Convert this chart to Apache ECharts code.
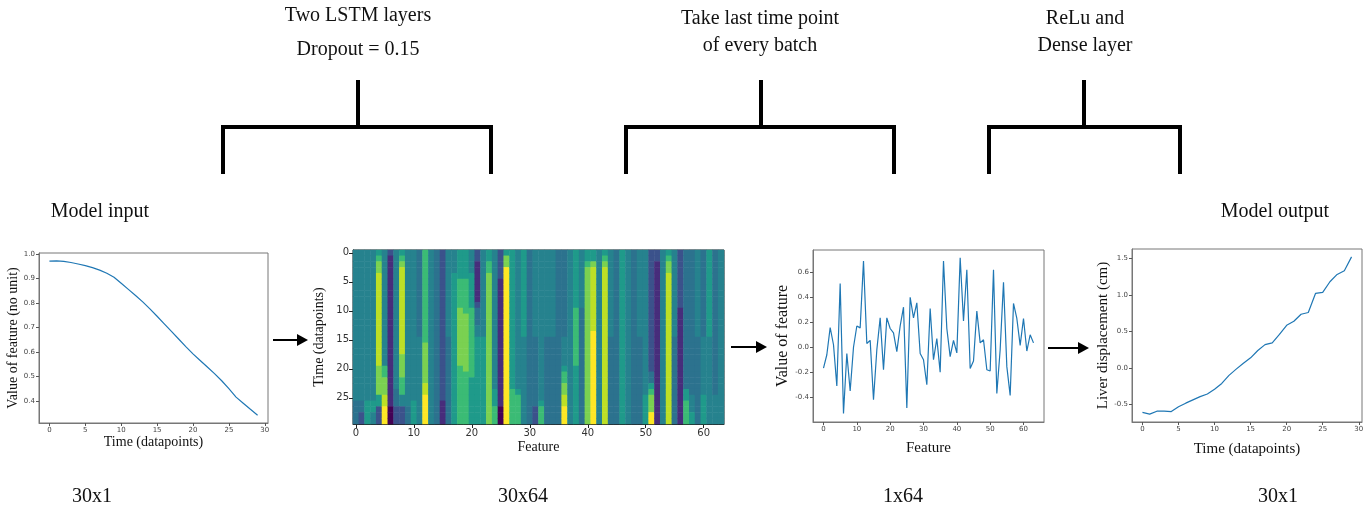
<!DOCTYPE html>
<html>
<head>
<meta charset="utf-8">
<script src="https://cdn.jsdelivr.net/npm/echarts@6/dist/echarts.min.js"></script>
<style>
html, body { margin: 0; padding: 0; background: #fff; }
#main { width: 1372px; height: 514px; }
</style>
</head>
<body>
<div id="main"></div>
<script>
// model input: one feature over 30 time points
var inputSeries = [0.972, 0.973, 0.971, 0.966, 0.960, 0.953, 0.945, 0.935, 0.922, 0.906,
    0.881, 0.856, 0.831, 0.805, 0.776, 0.746, 0.715, 0.684, 0.653, 0.622,
    0.592, 0.565, 0.538, 0.511, 0.482, 0.450, 0.415, 0.390, 0.365, 0.341];

// LSTM output 30x64, one string per feature column, row 0 first (0 = dark, 9 = yellow)
var heatCols = [
    '444444444444444444444444443333', '444444444444444444444444443322',
    '444444444444444444444444445555', '444444444444444444444444445544',
    '567788888888888888887777755222', '444444444444444444446677788999',
    '211111111111111111111111111000', '444444444444444444444444333222',
    '567888888888888888777766644222', '444444444444444444444444444333',
    '444444444444444444444444445555', '333333333333333444444444444444',
    '666666666666666677777778899999', '444444444444444444444444444444',
    '333333333333333333333333333333', '222222222222222222222222221111',
    '444444444444444333333333333333', '444455555555555555555555555555',
    '555556666677777777776666666666', '555556666667777777777666666666',
    '444455555566666666666655555555', '221111111233344555555555555555',
    '444444444444444555555555555555', '556677777777777777777777777777',
    '444444444444444444444444555666', '222221111111111111111111111000',
    '577999999999999999999999999999', '555555555555555555555555666666',
    '444444444444444444444444566666', '555555555555555444444444444444',
    '333333333333333333333333333333', '444444444444444333333333333222',
    '444444444444444444444444445666', '444444444444444333333333333333',
    '444444444444444333333333333333', '333333333333333333333333333333',
    '333333333333333444445667788999', '444444444444444444444444444444',
    '555555555566666666665555555555', '444444444433333333333333333333',
    '556777777777777777777777777777', '557888888888889999999999999999',
    '444444444444444444444444444444', '567888888888888888888888888888',
    '444444444444444333333333333333', '333333333333333333333333333333',
    '555555555555555555555555555555', '444444444444444444444444444444',
    '333333333333333333333333333333', '444444444444444333333333333333',
    '444444444444444444444444455555', '222222222222222222222335677799',
    '221111111111111111111111111111', '444444444444444444444444444444',
    '567788888888888888888888888888', '444444444444444333333333333333',
    '222222222211111111111111111111', '333333333333333333333333556666',
    '333333333333333333333333344455', '444444444444444333333333333333',
    '333333333333333444444444455555', '555555555555555444444444444444',
    '333333333333333333333333344444', '444444444444444444444444444444'
];

// last time point of every batch, 64 features
var lastPoint = [-0.167, -0.06, 0.158, 0.02, -0.31, 0.51, -0.53, -0.05, -0.35, 0.0,
    0.17, 0.155, 0.69, 0.03, 0.055, -0.42, -0.02, 0.235, -0.18, 0.235,
    0.15, 0.115, -0.035, 0.17, 0.32, -0.485, 0.40, 0.235, 0.355, -0.05,
    -0.10, -0.30, 0.31, -0.10, 0.07, -0.20, 0.69, 0.15, -0.075, 0.055,
    -0.045, 0.715, 0.21, 0.62, -0.17, -0.11, 0.29, 0.035, 0.06, -0.18,
    -0.19, 0.62, -0.37, -0.02, 0.52, -0.155, -0.385, 0.35, 0.23, 0.015,
    0.23, -0.03, 0.10, 0.035];

// model output: liver displacement over 30 time points
var outputSeries = [-0.606, -0.63, -0.59, -0.59, -0.595, -0.53, -0.48, -0.435, -0.39, -0.355,
    -0.29, -0.21, -0.10, -0.015, 0.066, 0.14, 0.24, 0.32, 0.345, 0.46,
    0.585, 0.64, 0.735, 0.76, 1.02, 1.035, 1.18, 1.28, 1.33, 1.52];

var timeTicks = [0, 5, 10, 15, 20, 25, 30];
var inputTicks = [0.4, 0.5, 0.6, 0.7, 0.8, 0.9, 1.0];
var featureTicks = [0, 10, 20, 30, 40, 50, 60];
var lastTicks = [-0.4, -0.2, 0.0, 0.2, 0.4, 0.6];
var outputTicks = [-0.5, 0.0, 0.5, 1.0, 1.5];

// viridis sampled for the 10 levels
var viridis = ['#440154', '#472d7b', '#3b528b', '#2c728e', '#26828e',
    '#1f9a8a', '#3bbb75', '#7ad151', '#bddf26', '#fde725'];

var chart = echarts.init(document.getElementById('main'), null, { renderer: 'canvas' });

function pairs(arr) {
    return arr.map(function (v, i) { return [i, v]; });
}

var heatData = [];
var featureCats = [];
var timeCats = [];
for (var c = 0; c < heatCols.length; c++) {
    featureCats.push(String(c));
    for (var r = 0; r < heatCols[c].length; r++) {
        heatData.push([c, r, +heatCols[c][r]]);
    }
}
for (var r = 0; r < 30; r++) timeCats.push(String(r));

var tickFont = { fontFamily: 'DejaVu Sans', fontSize: 7, color: '#444' };
var serif = 'Liberation Serif';

function valueAxis(gi, min, max, ticks, digits, name, gap, fsize) {
    return {
        type: 'value', gridIndex: gi, min: min, max: max,
        name: name, nameLocation: 'middle', nameGap: gap,
        nameTextStyle: { fontFamily: serif, fontSize: fsize, color: '#111' },
        axisLine: { show: true, onZero: false, lineStyle: { color: '#777', width: 1 } },
        axisTick: { show: true, length: 3, customValues: ticks, lineStyle: { color: '#555' } },
        axisLabel: Object.assign({
            customValues: ticks, margin: 4,
            formatter: function (v) { return digits ? v.toFixed(digits) : String(Math.round(v)); }
        }, tickFont),
        splitLine: { show: false }
    };
}

var boxGrid = { show: true, borderColor: '#777', borderWidth: 1, backgroundColor: 'transparent' };

var option = {
    backgroundColor: '#fff',
    animation: false,
    grid: [
        Object.assign({ left: 39, top: 253, width: 229, height: 170 }, boxGrid),
        { left: 353, top: 250, width: 371, height: 174, show: true, borderColor: '#222', borderWidth: 1 },
        Object.assign({ left: 813, top: 250, width: 231, height: 172 }, boxGrid),
        Object.assign({ left: 1132, top: 249, width: 230, height: 173 }, boxGrid)
    ],
    xAxis: [
        valueAxis(0, -1.45, 30.45, timeTicks, 0, 'Time (datapoints)', 10, 14),
        {
            type: 'category', gridIndex: 1, data: featureCats,
            name: 'Feature', nameLocation: 'middle', nameGap: 16,
            nameTextStyle: { fontFamily: serif, fontSize: 14, color: '#111' },
            axisLine: { show: true, lineStyle: { color: '#222' } },
            axisTick: { show: true, alignWithLabel: true, length: 4, interval: function (i) { return i % 10 === 0; }, lineStyle: { color: '#222' } },
            axisLabel: { interval: function (i) { return i % 10 === 0; }, fontFamily: 'DejaVu Sans', fontSize: 10, color: '#333', margin: 4 },
            splitLine: { show: false }
        },
        valueAxis(2, -3.15, 66.15, featureTicks, 0, 'Feature', 19, 15),
        valueAxis(3, -1.45, 30.45, timeTicks, 0, 'Time (datapoints)', 20, 15)
    ],
    yAxis: [
        valueAxis(0, 0.309, 1.005, inputTicks, 1, 'Value of feature (no unit)', 19, 14),
        {
            type: 'category', gridIndex: 1, data: timeCats, inverse: true,
            name: 'Time (datapoints)', nameLocation: 'middle', nameGap: 27,
            nameTextStyle: { fontFamily: serif, fontSize: 14, color: '#111' },
            axisLine: { show: true, lineStyle: { color: '#222' } },
            axisTick: { show: true, alignWithLabel: true, length: 4, interval: function (i) { return i % 5 === 0; }, lineStyle: { color: '#222' } },
            axisLabel: { interval: function (i) { return i % 5 === 0; }, fontFamily: 'DejaVu Sans', fontSize: 10, color: '#333', margin: 4 },
            splitLine: { show: false }
        },
        valueAxis(2, -0.5975, 0.7775, lastTicks, 1, 'Value of feature', 22, 16),
        valueAxis(3, -0.7375, 1.6275, outputTicks, 1, 'Liver displacement (cm)', 17, 15)
    ],
    visualMap: {
        show: false, type: 'continuous', min: 0, max: 9, seriesIndex: 1,
        inRange: { color: viridis }
    },
    series: [
        {
            type: 'line', xAxisIndex: 0, yAxisIndex: 0, data: pairs(inputSeries),
            showSymbol: false, lineStyle: { color: '#1f77b4', width: 1.2 }, itemStyle: { color: '#1f77b4' }
        },
        {
            type: 'heatmap', xAxisIndex: 1, yAxisIndex: 1, data: heatData,
            emphasis: { disabled: true }, itemStyle: { borderWidth: 0 }
        },
        {
            type: 'line', xAxisIndex: 2, yAxisIndex: 2, data: pairs(lastPoint),
            showSymbol: false, lineStyle: { color: '#1f77b4', width: 1.2 }, itemStyle: { color: '#1f77b4' }
        },
        {
            type: 'line', xAxisIndex: 3, yAxisIndex: 3, data: pairs(outputSeries),
            showSymbol: false, lineStyle: { color: '#1f77b4', width: 1.2 }, itemStyle: { color: '#1f77b4' }
        }
    ],
    graphic: { elements: [] }
};

// captions and diagram pieces
var labels = [
    ['Two LSTM layers', 358, 16], ['Dropout = 0.15', 358, 50],
    ['Take last time point', 760, 19], ['of every batch', 760, 46],
    ['ReLu and', 1085, 19], ['Dense layer', 1085, 46],
    ['Model input', 100, 212], ['Model output', 1275, 212],
    ['30x1', 92, 497], ['30x64', 523, 497], ['1x64', 903, 497], ['30x1', 1278, 497]
];
labels.forEach(function (t) {
    option.graphic.elements.push({
        type: 'text', x: t[1], y: t[2],
        style: { text: t[0], fontFamily: serif, fontSize: 20, fill: '#111', align: 'center', verticalAlign: 'middle' }
    });
});

var brackets = [[358, 223, 491], [761, 626, 894], [1084, 989, 1180]];
brackets.forEach(function (b) {
    option.graphic.elements.push({
        type: 'polyline',
        shape: { points: [[b[1], 174], [b[1], 127], [b[2], 127], [b[2], 174]] },
        style: { stroke: '#000', lineWidth: 4, fill: null, lineJoin: 'miter' }
    });
    option.graphic.elements.push({
        type: 'line', shape: { x1: b[0], y1: 80, x2: b[0], y2: 127 },
        style: { stroke: '#000', lineWidth: 4 }
    });
});

var arrows = [[273, 308, 340], [731, 767, 347], [1048, 1089, 348]];
arrows.forEach(function (a) {
    option.graphic.elements.push({
        type: 'line', shape: { x1: a[0], y1: a[2], x2: a[1] - 8, y2: a[2] },
        style: { stroke: '#000', lineWidth: 2 }
    });
    option.graphic.elements.push({
        type: 'polygon',
        shape: { points: [[a[1], a[2]], [a[1] - 11, a[2] - 6], [a[1] - 11, a[2] + 6]] },
        style: { fill: '#000' }
    });
});

chart.setOption(option);
window.addEventListener('resize', chart.resize);
</script>
</body>
</html>
